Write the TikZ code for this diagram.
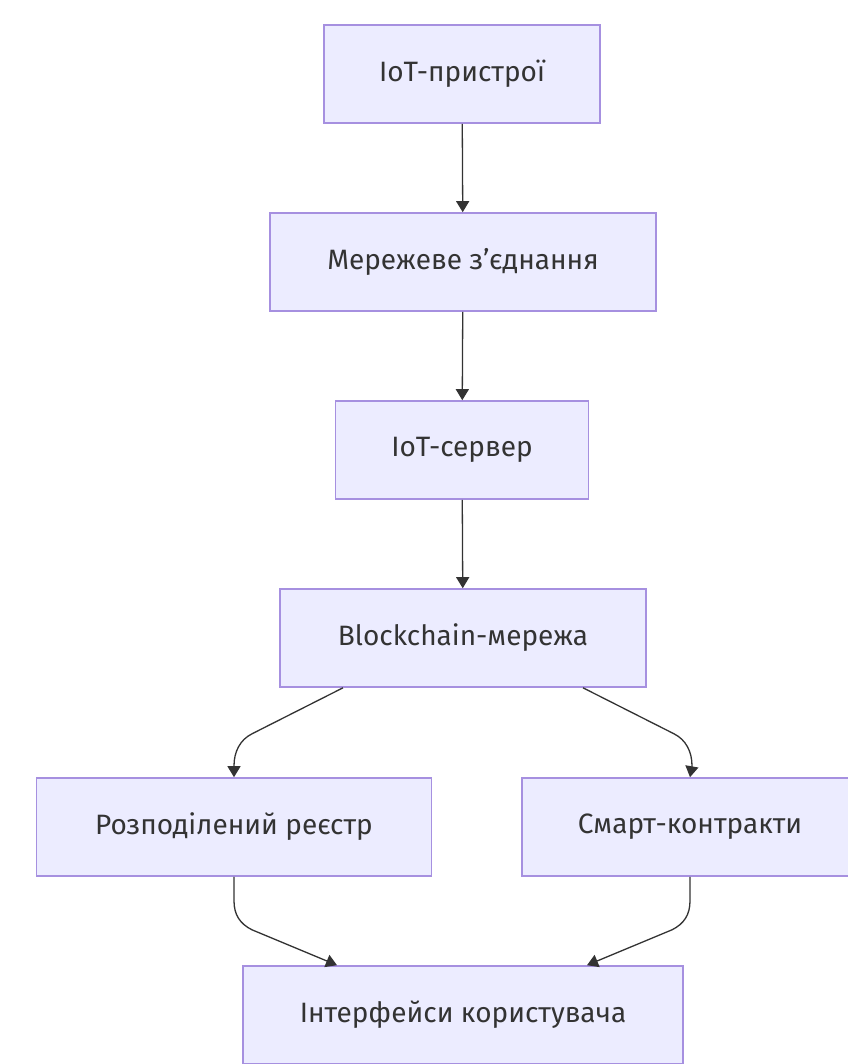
\documentclass[tikz,border=0pt]{standalone}
\usepackage{fontspec}
\setmainfont{Fira Sans}
\usetikzlibrary{arrows.meta}
\definecolor{boxfill}{HTML}{ECECFF}
\definecolor{boxline}{HTML}{A690E0}
\definecolor{ink}{HTML}{333333}
\tikzset{
  box/.style={draw=boxline, fill=boxfill, line width=1.6pt, rectangle,
    minimum height=98pt, inner sep=0pt, text=ink, font=\fontsize{28}{32}\selectfont},
  flow/.style={draw=ink, line width=1.3pt, -{Triangle[length=11pt,width=13pt]}},
}
\begin{document}
\begin{tikzpicture}[x=1pt, y=-1pt]
  \useasboundingbox (0,0) rectangle (847,1064);
  \fill[white] (0,0) rectangle (847,1064);

  \node[box, minimum width=276pt] (dev)  at (462,74)   {IoT-пристрої};
  \node[box, minimum width=386pt] (net)  at (463,262)  {Мережеве з'єднання};
  \node[box, minimum width=253pt] (srv)  at (462,450)  {IoT-сервер};
  \node[box, minimum width=366pt] (bc)   at (463,638)  {Blockchain-мережа};
  \node[box, minimum width=395pt] (led)  at (234,827)  {Розподілений реєстр};
  \node[box, minimum width=336pt] (sc)   at (690,827)  {Смарт-контракти};
  \node[box, minimum width=440pt] (ui)   at (463,1015) {Інтерфейси користувача};

  % straight chain
  \draw[flow] (dev) -- (net);
  \draw[flow] (net) -- (srv);
  \draw[flow] (srv) -- (bc);

  % fork from the blockchain network
  \draw[flow] ([xshift=-120pt]bc.south) -- ++(-91,46)
      .. controls +(-12,6) and +(0,-14) .. ++(-18,32) -- (led.north);
  \draw[flow] ([xshift=120pt]bc.south) -- ++(91,46)
      .. controls +(12,6) and +(0,-14) .. ++(18,32) -- (sc.north);

  % join into the user interfaces
  \draw[flow] (led.south) -- ++(0,24)
      .. controls +(0,14) and +(-12,-6) .. ++(18,29) -- ([xshift=-126pt]ui.north);
  \draw[flow] (sc.south) -- ++(0,24)
      .. controls +(0,14) and +(12,-6) .. ++(-18,29) -- ([xshift=124pt]ui.north);
\end{tikzpicture}
\end{document}
